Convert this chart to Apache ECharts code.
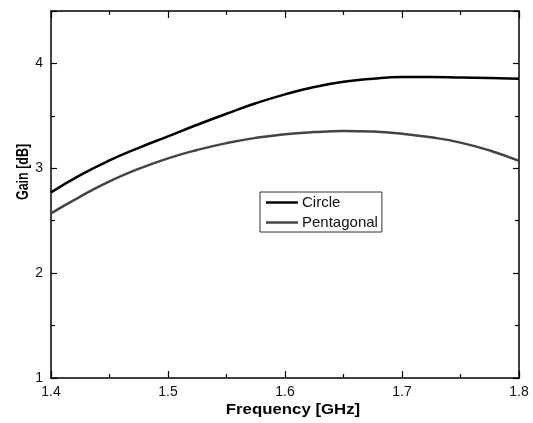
<!DOCTYPE html>
<html>
<head>
<meta charset="utf-8">
<script src="https://cdn.jsdelivr.net/npm/echarts@6/dist/echarts.min.js"></script>
<style>
html,body{margin:0;padding:0;background:#fff;}
#c{width:533px;height:423px;}
</style>
</head>
<body>
<div id="c"></div>
<script>
var freq = [1.4, 1.425, 1.45, 1.475, 1.5, 1.525, 1.55, 1.575, 1.6, 1.625, 1.65, 1.675, 1.7, 1.725, 1.75, 1.775, 1.8];
var circle = [2.77, 2.935, 3.075, 3.195, 3.305, 3.415, 3.52, 3.62, 3.705, 3.775, 3.825, 3.855, 3.87, 3.87, 3.865, 3.86, 3.855];
var pentagonal = [2.57, 2.73, 2.875, 2.995, 3.095, 3.175, 3.24, 3.29, 3.325, 3.345, 3.355, 3.35, 3.33, 3.295, 3.245, 3.17, 3.07];
var seriesNames = ['Circle', 'Pentagonal'];
var xTitle = 'Frequency [GHz]';
var yTitle = 'Gain [dB]';

function pairs(xs, ys){ return xs.map(function(x,i){ return [x, ys[i]]; }); }

var chart = echarts.init(document.getElementById('c'), null, {renderer:'canvas'});
var axisLineStyle = {color:'#000', width:1.5};
var baseX = {
  type:'value', min:1.4, max:1.8, interval:0.1,
  axisLine:{show:true, onZero:false, lineStyle:axisLineStyle},
  axisTick:{show:true, inside:true, length:7, lineStyle:{color:'#000', width:1.2}},
  minorTick:{show:true, splitNumber:2, length:4, lineStyle:{color:'#000', width:1.2}},
  splitLine:{show:false}
};
var baseY = {
  type:'value', min:1, max:4.5, interval:1,
  axisLine:{show:true, onZero:false, lineStyle:axisLineStyle},
  axisTick:{show:true, inside:true, length:6, lineStyle:{color:'#000', width:1.2}},
  minorTick:{show:true, splitNumber:2, length:4, lineStyle:{color:'#000', width:1.2}},
  splitLine:{show:false}
};
var labelFont = {fontFamily:'Liberation Sans, Arial, sans-serif', fontSize:14, color:'#111'};
var lineIcon = 'path://M0,0h32v2.5h-32z';

chart.setOption({
  backgroundColor:'#fff',
  animation:false,
  grid:{left:51, top:11, right:14, bottom:45},
  legend:{
    data:[{name:seriesNames[0], icon:lineIcon}, {name:seriesNames[1], icon:lineIcon}],
    orient:'vertical', left:260, top:192,
    borderColor:'#333', borderWidth:1, padding:[3,4,2,6],
    itemWidth:32, itemHeight:14, itemGap:5,
    textStyle:{fontFamily:'Liberation Sans, Arial, sans-serif', fontSize:15, color:'#111', padding:[0,0,0,-1]},
    backgroundColor:'#fff'
  },
  xAxis:[
    Object.assign({}, baseX, {position:'bottom',
      axisLabel:Object.assign({margin:7, formatter:function(v){return v.toFixed(1);}}, labelFont)}),
    Object.assign({}, baseX, {position:'top', axisLabel:{show:false}})
  ],
  yAxis:[
    Object.assign({}, baseY, {position:'left',
      axisLabel:Object.assign({margin:8, showMaxLabel:false, formatter:function(v){return Number.isInteger(v)? String(v) : '';}}, labelFont)}),
    Object.assign({}, baseY, {position:'right', axisLabel:{show:false}})
  ],
  graphic:[
    {type:'text', x:293, y:410, scaleX:1.2,
     style:{text:xTitle, fontFamily:'Liberation Sans, Arial, sans-serif', fontWeight:'bold', fontSize:14, fill:'#000', align:'center', verticalAlign:'middle'}},
    {type:'text', x:24, y:172, rotation:Math.PI/2, scaleX:0.78,
     style:{text:yTitle, fontFamily:'Liberation Sans, Arial, sans-serif', fontWeight:'bold', fontSize:16, fill:'#000', align:'center', verticalAlign:'middle'}}
  ],
  series:[
    {name:seriesNames[0], type:'line', data:pairs(freq, circle), smooth:true, symbol:'none',
     xAxisIndex:0, yAxisIndex:0, lineStyle:{color:'#000', width:2.5}, itemStyle:{color:'#000'}},
    {name:seriesNames[1], type:'line', data:pairs(freq, pentagonal), smooth:true, symbol:'none',
     xAxisIndex:0, yAxisIndex:0, lineStyle:{color:'#444', width:2.5}, itemStyle:{color:'#444'}}
  ]
});
</script>
</body>
</html>
